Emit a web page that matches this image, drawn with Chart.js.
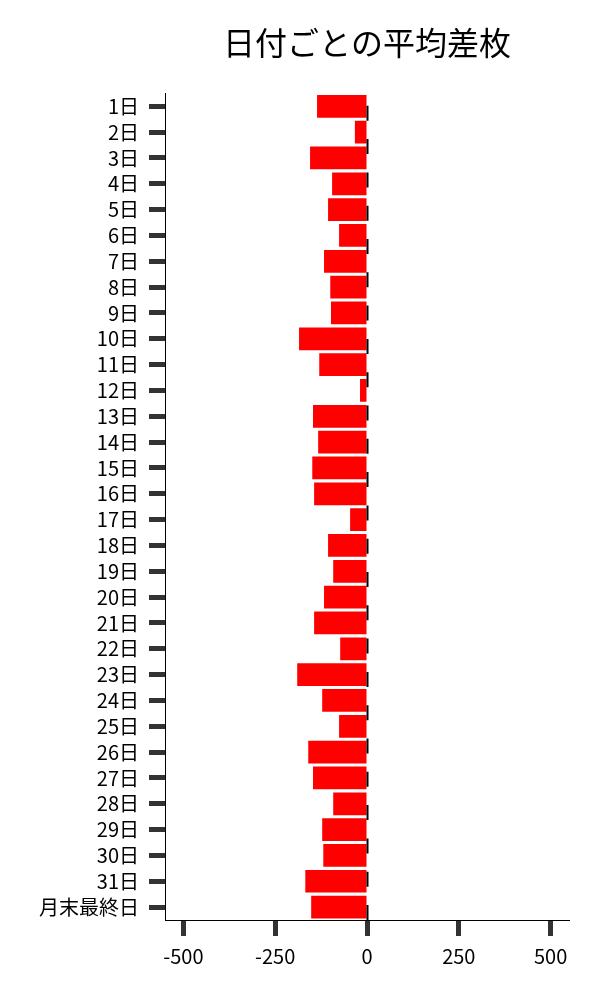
<!DOCTYPE html>
<html><head><meta charset="utf-8">
<script src="https://cdn.jsdelivr.net/npm/chart.js@4"></script>
<style>html,body{margin:0;padding:0;background:#fff}#wrap{width:600px;height:1000px}</style>
</head><body><div id="wrap"><canvas id="c" width="600" height="1000"></canvas></div>
<script>
const categories = ["1日","2日","3日","4日","5日","6日","7日","8日","9日","10日","11日","12日","13日","14日","15日","16日","17日","18日","19日","20日","21日","22日","23日","24日","25日","26日","27日","28日","29日","30日","31日","月末最終日"];
const avgDiff = [-136,-33,-155,-95,-106,-76,-117,-100,-98,-185,-130,-19,-147,-133,-149,-144,-46,-106,-92,-117,-144,-73,-190,-122,-76,-160,-147,-92,-122,-119,-168,-152];
const xTicks = [-500,-250,0,250,500];
const title = "日付ごとの平均差枚";
const FONT = "'Noto Sans CJK JP','Noto Sans',sans-serif";

const zeroLine = {
  id:'zeroLine',
  afterDatasetsDraw(chart){
    const {ctx, chartArea, scales} = chart;
    const x = scales.x.getPixelForValue(0);
    ctx.save();
    ctx.strokeStyle = '#000';
    ctx.lineWidth = 2;
    ctx.setLineDash([15, 18.3]);
    ctx.beginPath();
    ctx.moveTo(x+0.5, chartArea.bottom);
    ctx.lineTo(x+0.5, chartArea.top);
    ctx.stroke();
    ctx.restore();
  }
};

new Chart(document.getElementById('c'), {
  type:'bar',
  data:{labels:categories, datasets:[{data:avgDiff, backgroundColor:'#ff0000', borderWidth:0, barPercentage:0.88, categoryPercentage:1.0}]},
  options:{
    indexAxis:'y', responsive:false, animation:false, devicePixelRatio:1,
    layout:{padding:{left:0,right:31,top:0,bottom:0}},
    plugins:{
      legend:{display:false}, tooltip:{enabled:false},
      title:{display:true, text:title, fullSize:false, color:'#000', font:{family:FONT, size:32, weight:'normal'}, padding:{top:24,bottom:31}}
    },
    scales:{
      x:{
        min:-550, max:550,
        afterBuildTicks(s){ s.ticks = xTicks.map(v=>({value:v})); },
        afterFit(s){ s.height = 80; },
        grid:{drawOnChartArea:false, drawTicks:true, tickLength:16, tickWidth:5, tickColor:'#333'},
        border:{display:true, color:'#000', width:1},
        ticks:{color:'#000', padding:8, font:{family:FONT, size:20}}
      },
      y:{
        afterFit(s){ s.width = 165; },
        grid:{offset:false, drawOnChartArea:false, drawTicks:true, tickLength:16, tickWidth:5, tickColor:'#333'},
        border:{display:true, color:'#000', width:1},
        ticks:{color:'#000', padding:10, autoSkip:false, font:{family:FONT, size:20}}
      }
    }
  },
  plugins:[zeroLine]
});
</script></body></html>
